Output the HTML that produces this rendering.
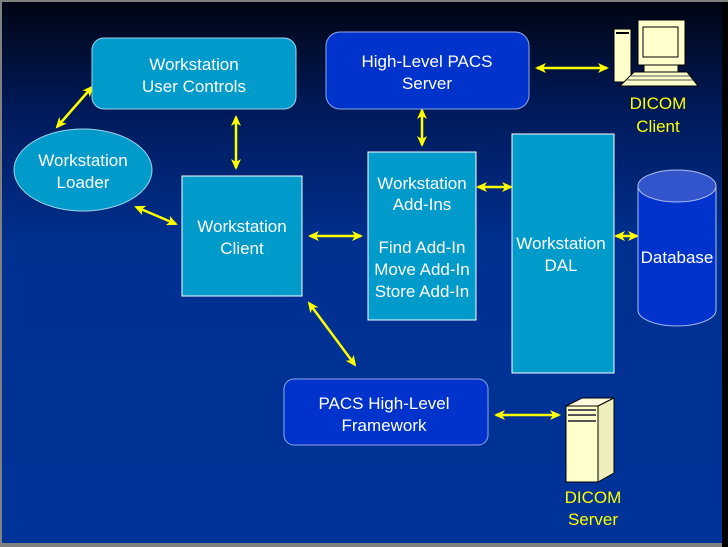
<!DOCTYPE html>
<html><head><meta charset="utf-8"><style>
html,body{margin:0;padding:0;width:728px;height:547px;overflow:hidden;background:#000}
text{font-family:"Liberation Sans",Arial,sans-serif;font-size:17px;fill:#fff;text-anchor:middle}
.y{fill:#ffff00}
</style></head><body>
<svg width="728" height="547" viewBox="0 0 728 547" xmlns="http://www.w3.org/2000/svg">
<defs>
<linearGradient id="bg" x1="0" y1="0" x2="0" y2="1">
<stop offset="0" stop-color="#000514"/>
<stop offset="0.2" stop-color="#001a5a"/>
<stop offset="0.45" stop-color="#003090"/>
<stop offset="1" stop-color="#003399"/>
</linearGradient>
<marker id="a" markerWidth="11" markerHeight="10" refX="9" refY="5" orient="auto-start-reverse" markerUnits="userSpaceOnUse">
<path d="M0,0 L11,5 L0,10 L3,5 Z" fill="#ffff00"/>
</marker>
</defs>
<rect width="728" height="547" fill="#808080"/>
<rect x="2" y="2" width="721" height="541" fill="url(#bg)"/>
<rect x="722" y="2" width="6" height="545" fill="#000"/>

<g stroke="#ffff00" stroke-width="2.5" marker-start="url(#a)" marker-end="url(#a)">
<line x1="57" y1="127" x2="92" y2="87"/>
<line x1="236" y1="117" x2="236" y2="168"/>
<line x1="136" y1="207" x2="176" y2="224"/>
<line x1="310" y1="236" x2="361" y2="236"/>
<line x1="422" y1="110" x2="422" y2="145"/>
<line x1="478" y1="187" x2="511" y2="187"/>
<line x1="616" y1="236" x2="637" y2="236"/>
<line x1="537" y1="68" x2="607" y2="68"/>
<line x1="309" y1="303" x2="355" y2="365"/>
<line x1="496" y1="415" x2="559" y2="415"/>
</g>

<rect x="92" y="38" width="204" height="71" rx="12" fill="#009acb" stroke="#9fd3ea" stroke-width="1"/>
<text x="194" y="70">Workstation</text><text x="194" y="92">User Controls</text>

<rect x="326" y="32" width="203" height="77" rx="14" fill="#0033cc" stroke="#8fa8e8" stroke-width="1"/>
<text x="427" y="67">High-Level PACS</text><text x="427" y="89">Server</text>

<ellipse cx="83" cy="170" rx="69" ry="41" fill="#009acb" stroke="#9fd3ea"/>
<text x="83" y="166">Workstation</text><text x="83" y="188">Loader</text>

<rect x="182" y="176" width="120" height="120" fill="#009acb" stroke="#fff"/>
<text x="242" y="232">Workstation</text><text x="242" y="254">Client</text>

<rect x="368" y="152" width="108" height="168" fill="#009acb" stroke="#fff"/>
<text x="422" y="189">Workstation</text><text x="422" y="210">Add-Ins</text>
<text x="422" y="253">Find Add-In</text><text x="422" y="275">Move Add-In</text><text x="422" y="297">Store Add-In</text>

<rect x="512" y="134" width="102" height="239" fill="#009acb" stroke="#fff"/>
<text x="561" y="249">Workstation</text><text x="561" y="271">DAL</text>

<path d="M638,186 L638,310 A39,16 0 0 0 716,310 L716,186" fill="#0033cc" stroke="#b0c0f0"/>
<ellipse cx="677" cy="186" rx="39" ry="16" fill="#3355cc" stroke="#b0c0f0"/>
<text x="677" y="263">Database</text>

<rect x="284" y="379" width="204" height="66" rx="10" fill="#0033cc" stroke="#8fa8e8"/>
<text x="384" y="409">PACS High-Level</text><text x="384" y="431">Framework</text>

<g stroke="#000" stroke-width="1" fill="#ffffcc">
<rect x="614" y="29" width="17" height="53"/>
<rect x="638" y="20" width="47" height="45"/>
<rect x="643" y="27" width="35" height="30" fill="#ffffcc"/>
<rect x="644" y="65" width="34" height="7"/>
<path d="M634,72 L687,72 L698,86 L620,86 Z"/>
</g>
<rect x="616" y="32" width="13" height="2" fill="#000"/>
<g stroke="#555" stroke-width="1"><line x1="630" y1="76" x2="690" y2="76"/><line x1="626" y1="80" x2="693" y2="80"/></g>
<text class="y" x="658" y="109">DICOM</text><text class="y" x="658" y="132">Client</text>

<g stroke="#000" stroke-width="1" fill="#ffffcc">
<path d="M566,406 L582,398 L614,398 L598,406 Z" fill="#fffadd"/>
<path d="M598,406 L614,398 L614,473 L598,482 Z" fill="#eeeebb"/>
<rect x="566" y="406" width="32" height="76"/>
</g>
<g fill="#555"><rect x="568" y="409" width="28" height="2"/><rect x="568" y="414" width="28" height="2"/><rect x="568" y="420" width="28" height="2"/></g>
<text class="y" x="593" y="503">DICOM</text><text class="y" x="593" y="525">Server</text>
</svg>
</body></html>
